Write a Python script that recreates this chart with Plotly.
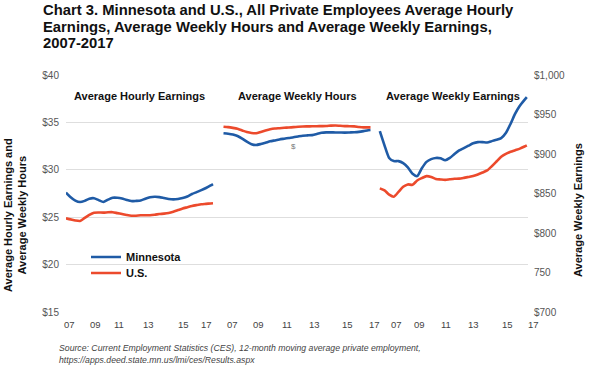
import plotly.graph_objects as go

# ---------------- data ----------------
# months since Jan 2007 (12-month moving averages)
months = list(range(0, 125, 4)) + [126]

mn_hourly = [27.6, 27.1, 26.75, 26.6, 26.72, 26.95, 27.0, 26.8, 26.6, 26.85, 27.05,
             27.05, 26.97, 26.82, 26.7, 26.72, 26.76, 26.95, 27.1, 27.15, 27.12, 27.02,
             26.92, 26.88, 26.92, 27.02, 27.18, 27.45, 27.65, 27.85, 28.08, 28.35, 28.5]
us_hourly = [24.88, 24.77, 24.65, 24.6, 24.92, 25.25, 25.48, 25.5, 25.48, 25.52, 25.53,
             25.43, 25.33, 25.23, 25.15, 25.16, 25.2, 25.2, 25.21, 25.26, 25.33, 25.38,
             25.45, 25.58, 25.75, 25.92, 26.05, 26.18, 26.28, 26.37, 26.41, 26.45, 26.47]

mn_hours = [33.85, 33.8, 33.72, 33.57, 33.3, 32.97, 32.7, 32.62, 32.72, 32.85, 33.0,
            33.1, 33.2, 33.28, 33.36, 33.43, 33.52, 33.6, 33.63, 33.66, 33.77, 33.9,
            33.95, 33.95, 33.94, 33.93, 33.92, 33.94, 33.96, 34.0, 34.08, 34.18, 34.2]
us_hours = [34.55, 34.5, 34.42, 34.32, 34.15, 33.98, 33.88, 33.86, 34.0, 34.14, 34.27,
            34.35, 34.39, 34.43, 34.46, 34.5, 34.54, 34.57, 34.58, 34.59, 34.6, 34.61,
            34.62, 34.66, 34.68, 34.64, 34.61, 34.6, 34.58, 34.52, 34.48, 34.48, 34.48]

mn_weekly = [929, 911, 895, 891, 891, 888.5, 883, 875, 872, 882, 890,
             893.5, 895, 894.5, 892, 895, 900, 904.5, 907.5, 910.5, 913.5, 915,
             915, 914.5, 916.3, 918, 920, 926.5, 938, 951, 961, 968.5, 972]
us_weekly = [856.5, 854, 848.5, 846, 852, 858.5, 861.5, 861, 866.5, 869.5, 872,
             871, 868.5, 867.8, 867.3, 868, 868.6, 868.8, 869.8, 871, 872.2, 874,
             876.5, 879.2, 884.5, 890.5, 896.5, 900.2, 902.8, 904.8, 906.8, 909.5, 911]

panel_titles = ["Average Hourly Earnings", "Average Weekly Hours", "Average Weekly Earnings"]
panel_offsets = [0, 135, 269]          # category-axis offset of each panel
x_range = [0, 396]

tick_labels = ["07", "09", "11", "13", "15", "17"] * 3
tick_pos = [3.4, 24.9, 45.4, 70.3, 100.3, 120.0,
            143.1, 165.4, 189.4, 213.4, 241.7, 264.0,
            282.9, 302.6, 325.7, 349.7, 378.0, 400.3]

left_ticks = [15, 20, 25, 30, 35, 40]
left_text = ["$15", "$20", "$25", "$30", "$35", "$40"]
right_ticks = [700, 750, 800, 850, 900, 950, 1000]
right_text = ["$700", "750", "$800", "$850", "$900", "$950", "$1,000"]

MN_COLOR = "#1f5ba6"
US_COLOR = "#ec4a2c"

# ---------------- layout constants ----------------
W, H = 589, 366
L, R, T, B = 66, 61, 75, 54
PW, PH = W - L - R, H - T - B


def px_x(px):
    return (px - L) / PW


def px_y(py):
    return 1 + (T - py) / PH


fig = go.Figure()

series = [
    (mn_hourly, "Minnesota", MN_COLOR, 0, "y", True, "legend"),
    (us_hourly, "U.S.", US_COLOR, 0, "y", True, "legend2"),
    (mn_hours, "Minnesota", MN_COLOR, 1, "y", False, "legend"),
    (us_hours, "U.S.", US_COLOR, 1, "y", False, "legend2"),
    (mn_weekly, "Minnesota", MN_COLOR, 2, "y2", False, "legend"),
    (us_weekly, "U.S.", US_COLOR, 2, "y2", False, "legend2"),
]
for vals, name, color, p, yax, show, leg in series:
    fig.add_trace(go.Scatter(
        x=[panel_offsets[p] + m for m in months], y=vals, yaxis=yax,
        mode="lines", name="<b>%s</b>" % name, legendgroup=name, showlegend=show,
        legend=leg,
        line=dict(color=color, width=2.6, shape="spline", smoothing=0.6),
        hoverinfo="skip"))

annotations = []
# chart title, one annotation per line
title_lines = ["Chart 3. Minnesota and U.S., All Private Employees Average Hourly",
               "Earnings, Average Weekly Hours and Average Weekly Earnings,",
               "2007-2017"]
for i, line in enumerate(title_lines):
    annotations.append(dict(text="<b>%s</b>" % line, xref="paper", yref="paper",
                            x=px_x(41), y=px_y(10 + 16.6 * i), xanchor="left", yanchor="middle",
                            showarrow=False, font=dict(size=14.8, color="#111")))

# panel titles
for p, t in enumerate(panel_titles):
    annotations.append(dict(text="<b>%s</b>" % t, xref="x", yref="paper",
                            x=panel_offsets[p] + 63, y=px_y(96), xanchor="center",
                            yanchor="middle", showarrow=False,
                            font=dict(size=11, color="#111")))

# category tick labels (last one sits past the plot edge, as in the source)
for pos, lab in zip(tick_pos, tick_labels):
    annotations.append(dict(text=lab, xref="paper", yref="paper",
                            x=(pos - x_range[0]) / (x_range[1] - x_range[0]), y=px_y(324),
                            xanchor="center", yanchor="middle", showarrow=False,
                            font=dict(size=9.5, color="#444")))

# axis titles
annotations.append(dict(text="<b>Average Hourly Earnings and<br>Average Weekly Hours</b>",
                        xref="paper", yref="paper", x=px_x(15), y=px_y(215),
                        xanchor="center", yanchor="middle", textangle=-90, showarrow=False,
                        font=dict(size=11, color="#111")))
annotations.append(dict(text="<b>Average Weekly Earnings</b>",
                        xref="paper", yref="paper", x=px_x(578), y=px_y(210),
                        xanchor="center", yanchor="middle", textangle=-90, showarrow=False,
                        font=dict(size=11, color="#111")))

# stray tick glyph visible in the source image
annotations.append(dict(text="$", xref="x", yref="y", x=195.4, y=32.5, showarrow=False,
                        font=dict(size=8, color="#777")))

# source note
source_lines = ["Source: Current Employment Statistics (CES), 12-month moving average private employment,",
                "https://apps.deed.state.mn.us/lmi/ces/Results.aspx"]
for i, line in enumerate(source_lines):
    annotations.append(dict(text="<i>%s</i>" % line, xref="paper", yref="paper",
                            x=px_x(57), y=px_y(348 + 12 * i), xanchor="left", yanchor="middle",
                            showarrow=False, font=dict(size=8.7, color="#444")))

legend_style = dict(xanchor="left", yanchor="middle", bgcolor="rgba(0,0,0,0)",
                    font=dict(size=11, color="#111"), itemwidth=30)

fig.update_layout(
    width=W, height=H,
    margin=dict(l=L, r=R, t=T, b=B, pad=0),
    paper_bgcolor="white", plot_bgcolor="white",
    font=dict(family="Liberation Sans, Arial, sans-serif", color="#444"),
    xaxis=dict(range=x_range, showticklabels=False, showgrid=False, zeroline=False,
               showline=False, ticks=""),
    yaxis=dict(range=[15, 40], tickvals=left_ticks, ticktext=left_text,
               showgrid=True, gridcolor="#dedede", gridwidth=1, zeroline=False,
               ticks="", ticklabelstandoff=6, tickfont=dict(size=10, color="#555")),
    yaxis2=dict(range=[700, 1000], tickvals=right_ticks, ticktext=right_text,
                overlaying="y", side="right", showgrid=False, zeroline=False,
                ticks="", ticklabelstandoff=5, tickfont=dict(size=10, color="#555")),
    legend=dict(x=px_x(86), y=px_y(257), **legend_style),
    legend2=dict(x=px_x(86), y=px_y(273), **legend_style),
    annotations=annotations,
)

fig.write_html("out.html", config={"displayModeBar": False},
               post_script="document.body.style.margin='0';")
